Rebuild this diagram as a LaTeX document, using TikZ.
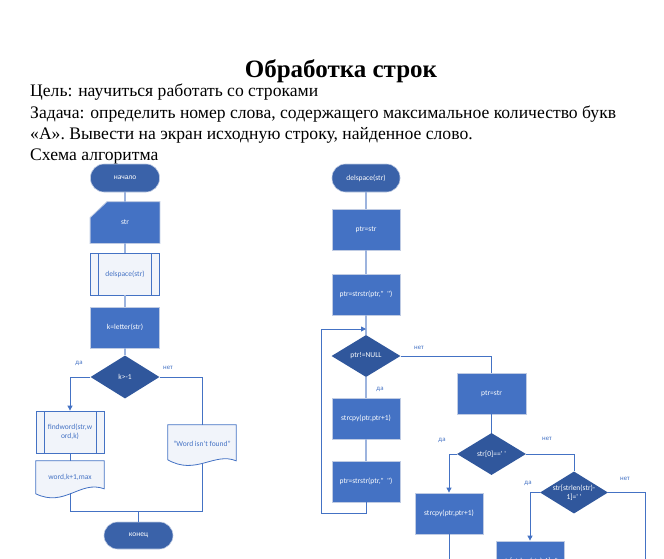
\documentclass[tikz,border=0pt]{standalone}
\usepackage{fontspec}
\setmainfont{Liberation Serif}
\newfontfamily\flowfont{Carlito}
\usetikzlibrary{positioning,arrows.meta,calc,shapes.geometric,backgrounds}
\definecolor{FlowBlue}{HTML}{4472C4}
\definecolor{FlowDark}{HTML}{30579C}
\definecolor{FlowTerm}{HTML}{3A62A9}
\definecolor{FlowEdge}{HTML}{BFCBE3}
\definecolor{FlowLine}{HTML}{9DB4DE}
\definecolor{FlowPale}{HTML}{F1F4FA}

\begin{document}
\begin{tikzpicture}[x=1pt,y=-1pt,>={Triangle[length=5pt,width=5pt]},
 txt/.style={anchor=base west,inner sep=0pt,font=\fontsize{17.6}{20}\selectfont},
 term/.style={rounded corners=13.5pt,fill=FlowTerm,draw=FlowEdge,line width=0.6pt,minimum width=69pt,minimum height=28pt,text=white,font=\flowfont\fontsize{7.5}{9}\selectfont},
 proc/.style={fill=FlowBlue,draw=FlowEdge,line width=0.8pt,minimum width=69pt,minimum height=41pt,text=white,align=center,font=\flowfont\fontsize{7.5}{9}\selectfont},
 cond/.style={diamond,aspect=1.6,inner sep=0pt,fill=FlowDark,minimum width=69pt,minimum height=42pt,text=white,align=center,font=\flowfont\fontsize{7.5}{9}\selectfont},
 predef/.style={fill=FlowPale,draw=FlowBlue,line width=0.8pt,minimum width=69pt,minimum height=42pt,text=FlowBlue,align=center,font=\flowfont\fontsize{7.5}{9}\selectfont,
  path picture={\draw[FlowBlue,line width=0.8pt] ([xshift=8pt]path picture bounding box.north west) -- ([xshift=8pt]path picture bounding box.south west) ([xshift=-8pt]path picture bounding box.north east) -- ([xshift=-8pt]path picture bounding box.south east);}},
 doc/.style={minimum width=68pt,text=FlowBlue,align=center,font=\flowfont\fontsize{7.5}{9}\selectfont},
 docline/.style={fill=FlowPale,draw=FlowBlue,line width=0.8pt},
 lab/.style={text=FlowBlue,font=\flowfont\fontsize{6.8}{7}\selectfont},
 light/.style={draw=FlowLine,line width=1.6pt},
 br/.style={draw=FlowBlue,line width=0.9pt}]
\useasboundingbox (0,0) rectangle (664,558);
% heading
\node[anchor=base,inner sep=0pt,font=\fontsize{25}{29}\selectfont\bfseries] (title) at (341,77) {Обработка строк};
\node[txt] (goal) at (30,96) {Цель: научиться работать со строками};
\node[txt] (task1) at (30,118) {Задача: определить номер слова, содержащего максимальное количество букв};
\node[txt] (task2) at (30,139) {«А». Вывести на экран исходную строку, найденное слово.};
\node[txt] (scheme) at (30,160) {Схема алгоритма};
% main
\node[term] (nach) at (125,178) {начало};
\node[proc,draw=none,fill=none] (str) at (125,222.5) {str};
\node[predef] (dels) at (125,274) {delspace(str)};
\node[proc] (klet) at (125,327.5) {k=letter(str)};
\node[cond,minimum height=43pt] (kcond) at (125,377) {k>-1};
\node[predef,minimum width=68pt] (fw) at (70,432) {findword(str,w\\ord,k)};
\node[doc,minimum height=32pt] (wrd) at (70,477) {word,k+1,max};
\node[doc,minimum height=38pt] (nf) at (202,444) {“Word isn’t found”};
\node[term,minimum height=27pt] (kon) at (138.5,535.5) {конец};
\node[lab] at (79,363) {да};
\node[lab] at (168,368) {нет};
\coordinate (mg) at (138.5,511);
\draw[light] (nach) -- (str);\draw[light] (str) -- (dels);\draw[light] (dels) -- (klet);\draw[light] (klet) -- (kcond);
\draw[br,->] (kcond.west) -| (fw.north);
\draw[br] (kcond.east) -| (nf.north);
\draw[br] (fw) -- (wrd);
\draw[br] (wrd.south) |- (mg) -| (nf.south);
\draw[br] (mg) -- (kon);
% delspace
\node[term,minimum width=68pt] (dsp) at (366,178) {delspace(str)};
\node[proc,minimum width=68pt] (p1) at (366,229.5) {ptr=str};
\node[proc,minimum width=68pt] (p2) at (366,294.5) {ptr=strstr(ptr,"\ \ ")};
\node[cond] (pn) at (366,356) {ptr!=NULL};
\node[proc,minimum width=68pt] (sc1) at (366,418.5) {strcpy(ptr,ptr+1)};
\node[proc,minimum width=68pt] (p3) at (366,481.5) {ptr=strstr(ptr,"\ \ ")};
\node[proc] (p4) at (491.5,393.5) {ptr=str};
\node[cond] (s0) at (491.5,454) {str[0]==' '};
\node[proc,minimum width=68pt] (sc2) at (449,513.5) {strcpy(ptr,ptr+1)};
\node[cond,minimum width=68pt,minimum height=41pt] (sl) at (574,492.5) {str[strlen(str)-\\1]=' '};
\node[proc,minimum width=68pt] (sc3) at (530,561.5) {str[strlen(str)-1]=''};
\node[lab] at (419,348) {нет};
\node[lab] at (380,389) {да};
\node[lab] at (442,440) {да};
\node[lab] at (547,439) {нет};
\node[lab] at (528,483) {да};
\node[lab] at (625,479) {нет};
\coordinate (jn) at (366,329);
\coordinate (out1) at (645,570);
\coordinate (out2) at (449,570);
\draw[light] (dsp) -- (p1);\draw[light] (p1) -- (p2);\draw[light] (p2) -- (pn);
\draw[light] (pn) -- (sc1);\draw[light] (sc1) -- (p3);
\draw[br,->] (p3.south) -- ++(0,11) -| ([xshift=-45pt]jn) -- (jn);
\draw[br] (pn.east) -| (p4.north);
\draw[br] (p4) -- (s0);
\draw[br,->] (s0.west) -| (sc2.north);
\draw[br] (s0.east) -| (sl.north);
\draw[br,->] (sl.west) -| (sc3.north);
\draw[br] (sl.east) -| (out1);
\draw[br] (sc2) -- (out2);
% outlines behind
\begin{scope}[on background layer]
\filldraw[fill=FlowBlue,draw=FlowEdge,line width=0.8pt] (str.south west) -- (str.south east) -- (str.north east) -- ([xshift=17pt]str.north west) -- ([yshift=-16pt]str.north west) -- cycle;
\filldraw[docline] (wrd.north west) -- (wrd.north east) -- ++(0,28) .. controls +(-24,-9) and +(29,14) .. ($(wrd.north west)+(0,33)$) -- cycle;
\filldraw[docline] (nf.north west) -- (nf.north east) -- ++(0,36) .. controls +(-22,-9) and +(28,16) .. ($(nf.north west)+(0,35)$) -- cycle;
\end{scope}
\end{tikzpicture}
\end{document}
